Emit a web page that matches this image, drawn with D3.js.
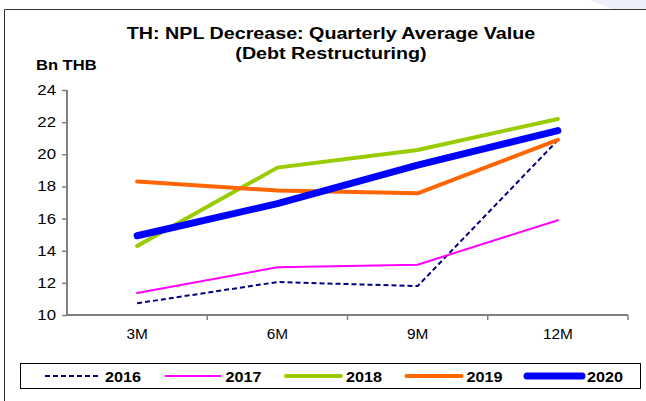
<!DOCTYPE html>
<html>
<head>
<meta charset="utf-8">
<script src="https://cdn.jsdelivr.net/npm/d3@7"></script>
<style>
  body { margin: 0; background: #fff; }
  text { font-family: "Liberation Sans", Arial, sans-serif; }
</style>
</head>
<body>
<svg id="chart" width="646" height="401"></svg>
<script>
// data
const categories = ["3M", "6M", "9M", "12M"];
const years = ["2016", "2017", "2018", "2019", "2020"];
const v2016 = [10.73, 12.05, 11.8, 20.88];
const v2017 = [11.37, 12.97, 13.13, 15.9];
const v2018 = [14.3, 19.17, 20.27, 22.2];
const v2019 = [18.3, 17.74, 17.57, 20.9];
const v2020 = [14.93, 16.93, 19.33, 21.47];
const yTicks = [10, 12, 14, 16, 18, 20, 22, 24];

const series = [
  { name: years[0], values: v2016, color: "#000080", width: 2, dash: "5,3" },
  { name: years[1], values: v2017, color: "#ff00ff", width: 2, dash: null },
  { name: years[2], values: v2018, color: "#99cc00", width: 4, dash: null },
  { name: years[3], values: v2019, color: "#ff6600", width: 4, dash: null },
  { name: years[4], values: v2020, color: "#0000ff", width: 7, dash: null },
];

const svg = d3.select("svg#chart");
const margin = { left: 67, right: 18, top: 90, bottom: 86 };
const width = 646 - margin.left - margin.right;
const height = 401 - margin.top - margin.bottom;

// the original picture is a bit wider than tall, so widen the text
function stretch(sel, k) {
  sel.each(function () {
    const len = this.getComputedTextLength();
    d3.select(this).attr("textLength", len * k).attr("lengthAdjust", "spacingAndGlyphs");
  });
}

// faint decoration top right
svg.append("path")
  .attr("d", "M590,0 L646,0 L646,9 L612,9 Z")
  .attr("fill", "#eceef9");

// outer frame (top and left edges only)
svg.append("path")
  .attr("d", "M4.5,401 L4.5,9.5 L646,9.5")
  .attr("fill", "none")
  .attr("stroke", "#333")
  .attr("stroke-width", 1);

// title
svg.append("text")
  .attr("x", 331).attr("y", 39)
  .attr("text-anchor", "middle")
  .attr("font-size", 16).attr("font-weight", "bold")
  .text("TH: NPL Decrease: Quarterly Average Value")
  .call(stretch, 1.23);
svg.append("text")
  .attr("x", 331).attr("y", 59)
  .attr("text-anchor", "middle")
  .attr("font-size", 16).attr("font-weight", "bold")
  .text("(Debt Restructuring)")
  .call(stretch, 1.23);
svg.append("text")
  .attr("x", 36).attr("y", 70)
  .attr("font-size", 14).attr("font-weight", "bold")
  .text("Bn THB")
  .call(stretch, 1.18);

const g = svg.append("g")
  .attr("transform", `translate(${margin.left}, ${margin.top})`);

const x = d3.scaleBand().domain(categories).range([0, width]);
const y = d3.scaleLinear().domain([10, 24]).range([height, 0]);

const yAxis = g.append("g")
  .call(d3.axisLeft(y).tickValues(yTicks).tickSize(5).tickPadding(6).tickFormat(d3.format("d")));
const xAxis = g.append("g")
  .attr("transform", `translate(0, ${height})`)
  .call(d3.axisBottom(x).tickSize(0).tickPadding(14));

// x ticks sit on band edges, not centers
xAxis.selectAll("line.edge")
  .data(x.domain())
  .join("line")
  .attr("class", "edge")
  .attr("x1", (d) => x(d) + x.bandwidth())
  .attr("x2", (d) => x(d) + x.bandwidth())
  .attr("y1", 0).attr("y2", 5);

[yAxis, xAxis].forEach((a) => {
  a.select(".domain").attr("stroke", "#808080").attr("stroke-width", 2);
  a.selectAll("line").attr("stroke", "#808080").attr("stroke-width", 1.5);
  a.selectAll("text")
    .attr("font-family", "Liberation Sans, Arial, sans-serif")
    .attr("font-size", 14).attr("fill", "#000");
});
yAxis.selectAll("text").call(stretch, 1.2);
xAxis.selectAll("text").call(stretch, 1.1);
yAxis.select(".domain").attr("d", `M0,${height}V0`);
xAxis.select(".domain").attr("d", `M0,0H${width}`);

const line = d3.line()
  .x((d, i) => x(categories[i]) + x.bandwidth() / 2)
  .y((d) => y(d));

g.selectAll("path.series")
  .data(series)
  .join("path")
  .attr("class", "series")
  .attr("d", (d) => line(d.values))
  .attr("fill", "none")
  .attr("stroke", (d) => d.color)
  .attr("stroke-width", (d) => d.width)
  .attr("stroke-dasharray", (d) => d.dash)
  .attr("stroke-linecap", (d) => (d.dash ? "butt" : "round"))
  .attr("stroke-linejoin", "round");

// legend
const legend = svg.append("g");
legend.append("rect")
  .attr("x", 20.5).attr("y", 363.5)
  .attr("width", 620).attr("height", 25)
  .attr("fill", "#fff").attr("stroke", "#000").attr("stroke-width", 1);

const item = legend.selectAll("g.item")
  .data(series)
  .join("g")
  .attr("class", "item")
  .attr("transform", (d, i) => `translate(${45 + i * 120.5}, 376)`);
item.append("line")
  .attr("x1", 0).attr("x2", 55)
  .attr("stroke", (d) => d.color)
  .attr("stroke-width", (d) => d.width)
  .attr("stroke-dasharray", (d) => d.dash)
  .attr("stroke-linecap", (d) => (d.dash ? "butt" : "round"));
item.append("text")
  .attr("x", 60).attr("y", 6)
  .attr("font-size", 15).attr("font-weight", "bold")
  .text((d) => d.name)
  .call(stretch, 1.08);
</script>
</body>
</html>
